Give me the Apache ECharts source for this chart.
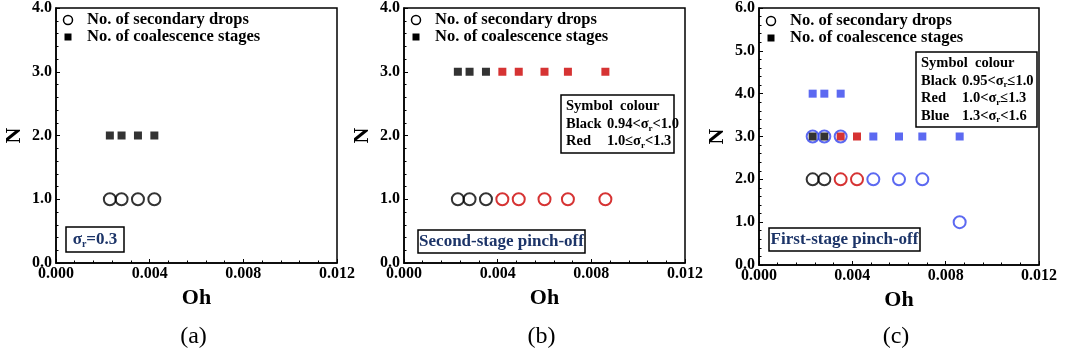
<!DOCTYPE html>
<html>
<head>
<meta charset="utf-8">
<script src="https://cdn.jsdelivr.net/npm/echarts@6/dist/echarts.min.js"></script>
<style>
  html, body { margin: 0; padding: 0; background: #fff; }
  #chart { width: 1065px; height: 356px; }
</style>
</head>
<body>
<div id="chart"></div>
<script>
// ---- data ----
// (a) sigma_r = 0.3
const ohA = [0.0023, 0.0028, 0.0035, 0.0042];
const dropsA = [1, 1, 1, 1];
const stagesA = [2, 2, 2, 2];
const colourA = ['k', 'k', 'k', 'k'];

// (b) second-stage pinch-off
const ohB = [0.0023, 0.0028, 0.0035, 0.0042, 0.0049, 0.0060, 0.0070, 0.0086];
const dropsB = [1, 1, 1, 1, 1, 1, 1, 1];
const stagesB = [3, 3, 3, 3, 3, 3, 3, 3];
const colourB = ['k', 'k', 'k', 'r', 'r', 'r', 'r', 'r'];

// (c) first-stage pinch-off
const dropOhC = [0.0023, 0.0028, 0.0035, 0.0023, 0.0028, 0.0035, 0.0042, 0.0049, 0.0060, 0.0070, 0.0086];
const dropNC = [3, 3, 3, 2, 2, 2, 2, 2, 2, 2, 1];
const dropColourC = ['b', 'b', 'b', 'k', 'k', 'r', 'r', 'b', 'b', 'b', 'b'];
const stageOhC = [0.0023, 0.0028, 0.0035, 0.0023, 0.0028, 0.0035, 0.0042, 0.0049, 0.0060, 0.0070, 0.0086];
const stageNC = [4, 4, 4, 3, 3, 3, 3, 3, 3, 3, 3];
const stageColourC = ['b', 'b', 'b', 'k', 'k', 'r', 'r', 'b', 'b', 'b', 'b'];

const xTicks = { min: 0, max: 0.012, interval: 0.004 };
const yMaxes = [4, 4, 6];
const legendNames = ['No. of secondary drops', 'No. of coalescence stages'];
const captions = ['(a)', '(b)', '(c)'];

// ---- styling ----
const palette = { k: '#000000', r: '#cc0000', b: '#3344ee' };
const navy = '#1c3468';
const serif = '"Liberation Serif", "Times New Roman", serif';

const grids = [
  { left: 56, top: 6, width: 281, height: 257 },
  { left: 404, top: 6, width: 281, height: 257 },
  { left: 759, top: 7, width: 280, height: 258 }
];

function xAxisFor(i) {
  return {
    gridIndex: i, type: 'value', min: xTicks.min, max: xTicks.max, interval: xTicks.interval,
    name: 'Oh', nameLocation: 'middle', nameGap: 21,
    nameTextStyle: { fontFamily: serif, fontWeight: 'bold', fontSize: 22, color: '#000' },
    axisLine: { show: true, onZero: false, lineStyle: { color: '#000', width: 1.5 } },
    axisTick: { show: true, inside: true, length: 4, lineStyle: { color: '#000', width: 1 } },
    minorTick: { show: true, splitNumber: 5, length: 2.5, lineStyle: { color: '#000', width: 1 } },
    splitLine: { show: false },
    axisLabel: { formatter: v => v.toFixed(3), margin: 3, fontFamily: serif, fontWeight: 'bold', fontSize: 16, color: '#000' }
  };
}
function yAxisFor(i) {
  return {
    gridIndex: i, type: 'value', min: 0, max: yMaxes[i], interval: 1,
    name: 'N', nameLocation: 'middle', nameGap: 31,
    nameTextStyle: { fontFamily: serif, fontWeight: 'bold', fontSize: 22, color: '#000' },
    axisLine: { show: true, onZero: false, lineStyle: { color: '#000', width: 1.5 } },
    axisTick: { show: true, inside: true, length: 4, lineStyle: { color: '#000', width: 1 } },
    minorTick: { show: true, splitNumber: 5, length: 2.5, lineStyle: { color: '#000', width: 1 } },
    splitLine: { show: false },
    axisLabel: { formatter: v => v.toFixed(1), margin: 4, fontFamily: serif, fontWeight: 'bold', fontSize: 16, color: '#000' }
  };
}

function points(xs, ys, cols) {
  return xs.map((x, k) => ({ value: [x, ys[k]], colourKey: cols[k] }));
}
function circleSeries(i, xs, ys, cols) {
  return {
    name: legendNames[0], type: 'scatter', xAxisIndex: i, yAxisIndex: i,
    symbol: 'circle', symbolSize: 12, z: 3,
    data: points(xs, ys, cols).map(p => ({
      value: p.value,
      itemStyle: { color: 'rgba(0,0,0,0)', borderColor: palette[p.colourKey], borderWidth: 2 }
    }))
  };
}
function squareSeries(i, xs, ys, cols) {
  return {
    name: legendNames[1], type: 'scatter', xAxisIndex: i, yAxisIndex: i,
    symbol: 'rect', symbolSize: 8, z: 2,
    data: points(xs, ys, cols).map(p => ({
      value: p.value,
      itemStyle: { color: palette[p.colourKey] }
    }))
  };
}

// legend drawn inside each plot, top-left
function legendGraphics(g) {
  const cx = g.left + 12, tx = g.left + 31, y1 = g.top + 14, y2 = g.top + 31;
  const txt = (y, s) => ({ type: 'text', x: tx, y: y, style: { text: s, fontFamily: serif, fontWeight: 'bold', fontSize: 16.5, fill: '#000', verticalAlign: 'middle' } });
  return [
    { type: 'circle', shape: { cx: cx, cy: y1, r: 4.5 }, style: { fill: 'none', stroke: '#000', lineWidth: 1.5 } },
    txt(y1, legendNames[0]),
    { type: 'rect', shape: { x: cx - 3.5, y: y2 - 3.5, width: 7, height: 7 }, style: { fill: '#000' } },
    txt(y2, legendNames[1])
  ];
}

const richSub = {
  m: { fontFamily: serif, fontWeight: 'bold', fontSize: 14.5, lineHeight: 17.5, verticalAlign: 'middle' },
  s: { fontFamily: serif, fontWeight: 'bold', fontSize: 9, lineHeight: 9, verticalAlign: 'bottom' },
  lab: { fontFamily: serif, fontWeight: 'bold', fontSize: 14.5, lineHeight: 17.5, width: 41, verticalAlign: 'middle' }
};

function boxed(x, y, w, h, text, rich, color, align) {
  return {
    type: 'group', x: x, y: y, children: [
      { type: 'rect', shape: { x: 0, y: 0, width: w, height: h }, style: { fill: '#fff', stroke: '#000', lineWidth: 1.5 } },
      { type: 'text', x: align === 'left' ? 5 : w / 2, y: h / 2,
        style: { text: text, rich: rich, fill: color, align: align || 'center', verticalAlign: 'middle' } }
    ]
  };
}

const navyRich = {
  m: { fontFamily: serif, fontWeight: 'bold', fontSize: 17, lineHeight: 20, verticalAlign: 'middle', fill: navy },
  s: { fontFamily: serif, fontWeight: 'bold', fontSize: 10, lineHeight: 10, verticalAlign: 'bottom', fill: navy }
};

const graphics = [];
grids.forEach(g => graphics.push(...legendGraphics(g)));
graphics.push(boxed(66, 227, 58, 25, '{m|σ}{s|r}{m|=0.3}', navyRich, navy));
graphics.push(boxed(418, 230, 167, 23, '{m|Second-stage pinch-off}', navyRich, navy));
graphics.push(boxed(769, 228, 151, 23, '{m|First-stage pinch-off}', navyRich, navy));
graphics.push(boxed(561, 95, 113, 58,
  '{m|Symbol  colour}\n{lab|Black}{m|0.94<σ}{s|r}{m|<1.0}\n{lab|Red}{m|1.0≤σ}{s|r}{m|<1.3}', richSub, '#000', 'left'));
graphics.push(boxed(916, 52, 121, 75,
  '{m|Symbol  colour}\n{lab|Black}{m|0.95<σ}{s|r}{m|≤1.0}\n{lab|Red}{m|1.0<σ}{s|r}{m|≤1.3}\n{lab|Blue}{m|1.3<σ}{s|r}{m|<1.6}', richSub, '#000', 'left'));
grids.forEach((g, i) => graphics.push({
  type: 'text', x: g.left + g.width / 2 - 3, y: 337,
  style: { text: captions[i], fontFamily: serif, fontSize: 24, fill: '#000', align: 'center', verticalAlign: 'middle' }
}));

const chart = echarts.init(document.getElementById('chart'), null, { renderer: 'canvas' });
chart.setOption({
  backgroundColor: '#fff',
  animation: false,
  grid: grids.map(g => Object.assign({ show: true, borderColor: '#000', borderWidth: 1.5, backgroundColor: 'transparent' }, g)),
  xAxis: [0, 1, 2].map(xAxisFor),
  yAxis: [0, 1, 2].map(yAxisFor),
  series: [
    squareSeries(0, ohA, stagesA, colourA),
    circleSeries(0, ohA, dropsA, colourA),
    squareSeries(1, ohB, stagesB, colourB),
    circleSeries(1, ohB, dropsB, colourB),
    squareSeries(2, stageOhC, stageNC, stageColourC),
    circleSeries(2, dropOhC, dropNC, dropColourC)
  ],
  graphic: graphics
});
</script>
</body>
</html>
